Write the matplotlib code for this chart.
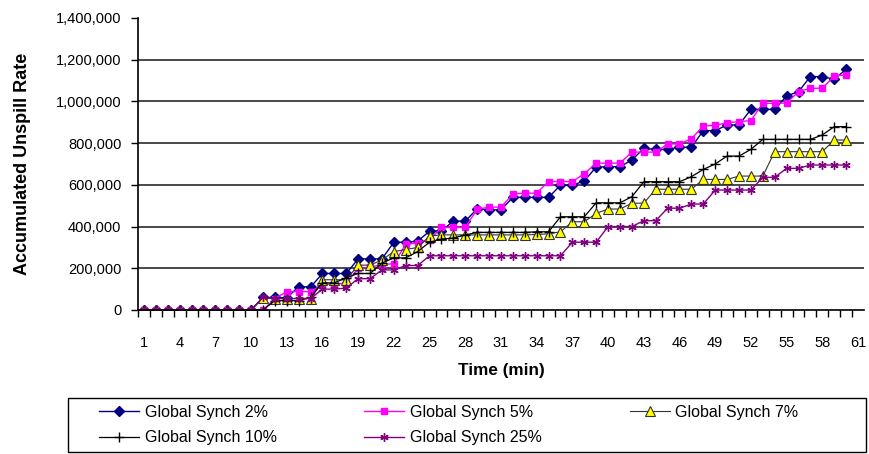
import matplotlib
matplotlib.use('Agg')
import matplotlib.pyplot as plt
from matplotlib.patches import Rectangle
from matplotlib.ticker import FuncFormatter, FixedLocator

plt.rcParams['font.family'] = ['Liberation Sans', 'DejaVu Sans']

# time axis (min)
minutes = list(range(1, 61))

# accumulated unspill rate per series
sync_2 = [0, 0, 0, 0, 0, 0, 0, 0, 0, 0,
          60000, 60000, 58000, 112000, 110000, 175000, 175000, 175000, 245000, 245000,
          245000, 325000, 325000, 330000, 378000, 380000, 426000, 426000, 485000, 480000,
          480000, 540000, 540000, 540000, 540000, 598000, 598000, 619000, 685000, 687000,
          687000, 719000, 775000, 770000, 770000, 780000, 780000, 860000, 860000, 887000,
          887000, 962000, 962000, 962000, 1026000, 1047000, 1119000, 1119000, 1106000, 1154000]
sync_5 = [0, 0, 0, 0, 0, 0, 0, 0, 0, 0,
          0, 55000, 88000, 88000, 88000, 122000, 125000, 128000, 200000, 205000,
          218000, 222000, 315000, 322000, 335000, 396000, 396000, 396000, 483000, 493000,
          493000, 556000, 560000, 560000, 616000, 616000, 616000, 653000, 704000, 704000,
          704000, 757000, 757000, 757000, 796000, 796000, 821000, 882000, 885000, 898000,
          903000, 908000, 991000, 991000, 992000, 1047000, 1063000, 1063000, 1122000, 1127000]
sync_7 = [0, 0, 0, 0, 0, 0, 0, 0, 0, 0,
          58000, 55000, 55000, 55000, 55000, 145000, 145000, 145000, 215000, 215000,
          240000, 280000, 290000, 300000, 355000, 360000, 360000, 360000, 360000, 360000,
          360000, 360000, 360000, 362000, 365000, 375000, 423000, 423000, 463000, 484000,
          484000, 512000, 512000, 579000, 579000, 579000, 579000, 626000, 626000, 626000,
          642000, 642000, 642000, 759000, 759000, 759000, 759000, 759000, 815000, 815000]
sync_10 = [0, 0, 0, 0, 0, 0, 0, 0, 0, 0,
           0, 45000, 45000, 45000, 60000, 130000, 130000, 155000, 175000, 175000,
           225000, 250000, 250000, 280000, 325000, 340000, 345000, 360000, 372000, 372000,
           372000, 372000, 372000, 375000, 375000, 447000, 447000, 447000, 514000, 514000,
           514000, 543000, 615000, 615000, 615000, 615000, 639000, 674000, 700000, 738000,
           738000, 770000, 818000, 818000, 818000, 818000, 818000, 839000, 879000, 879000]
sync_25 = [0, 0, 0, 0, 0, 0, 0, 0, 0, 0,
           60000, 55000, 55000, 55000, 55000, 100000, 100000, 105000, 150000, 150000,
           192000, 192000, 213000, 213000, 260000, 260000, 260000, 260000, 260000, 260000,
           260000, 260000, 260000, 260000, 260000, 260000, 325000, 325000, 325000, 400000,
           400000, 400000, 428000, 428000, 488000, 488000, 508000, 508000, 575000, 575000,
           575000, 575000, 636000, 636000, 679000, 679000, 695000, 695000, 695000, 695000]

fig = plt.figure(figsize=(8.69, 4.54), dpi=100)
ax = fig.add_axes([0.1588, 0.3172, 0.8354, 0.6432])

# horizontal gridlines
for v in range(200000, 1400000, 200000):
    ax.axhline(v, color='#3a3a3a', lw=1.3, zorder=0)

l2, = ax.plot(minutes, sync_2, color='#000080', lw=1, marker='D', ms=5,
              mfc='#000080', mec='#000080', label='Global Synch 2%')
l5, = ax.plot(minutes, sync_5, color='#FF00FF', lw=1, marker='s', ms=5,
              mfc='#FF00FF', mec='#FF00FF', label='Global Synch 5%')
l7, = ax.plot(minutes, sync_7, color='#333333', lw=0.8, marker='^', ms=7,
              mfc='#FFFF00', mec='#333333', mew=0.8, label='Global Synch 7%')
l10, = ax.plot(minutes, sync_10, color='black', lw=0.9, marker='+', ms=7,
               mew=1, label='Global Synch 10%')
l25, = ax.plot(minutes, sync_25, color='#800080', lw=1, marker=(6, 2, 0), ms=6,
               mew=1, label='Global Synch 25%')

ax.set_xlim(0.5, 61.5)
ax.set_ylim(0, 1400000)
ax.set_xticks(range(1, 62, 3))
ax.xaxis.set_minor_locator(FixedLocator([i + 0.5 for i in range(0, 61)]))
ax.tick_params(axis='x', which='major', length=0, pad=19, labelsize=10.5)
ax.tick_params(axis='x', which='minor', length=5, direction='out', width=1)
ax.set_yticks(range(0, 1400001, 200000))
ax.yaxis.set_major_formatter(FuncFormatter(lambda v, p: '{:,.0f}'.format(v)))
ax.tick_params(axis='y', length=5, direction='out', width=1, labelsize=10.5, pad=7)

ax.spines['top'].set_visible(False)
ax.spines['right'].set_visible(False)
ax.spines['left'].set_linewidth(1.2)
ax.spines['bottom'].set_linewidth(1.2)

fig.text(0.577, 0.185, 'Time (min)', ha='center', va='center',
         fontsize=12.3, fontweight='bold')
fig.text(0.026, 0.64, 'Accumulated Unspill Rate', ha='center', va='center',
         rotation=90, fontsize=13, fontweight='bold')

# legend box
fig.patches.append(Rectangle((0.0783, 0.0044), 0.9183, 0.119, transform=fig.transFigure,
                             fill=False, edgecolor='black', lw=1))

# legend laid out row-wise like the original
handles = [l2, l10, l5, l25, l7]
leg = fig.legend(handles, [h.get_label() for h in handles], ncol=3,
                 loc='upper left', bbox_to_anchor=(0.114, 0.108),
                 fontsize=11.5, frameon=False, borderaxespad=0, borderpad=0,
                 handlelength=2.5, handletextpad=0.35, labelspacing=0.65,
                 columnspacing=5.5)

fig.savefig('out.png', dpi=100)
